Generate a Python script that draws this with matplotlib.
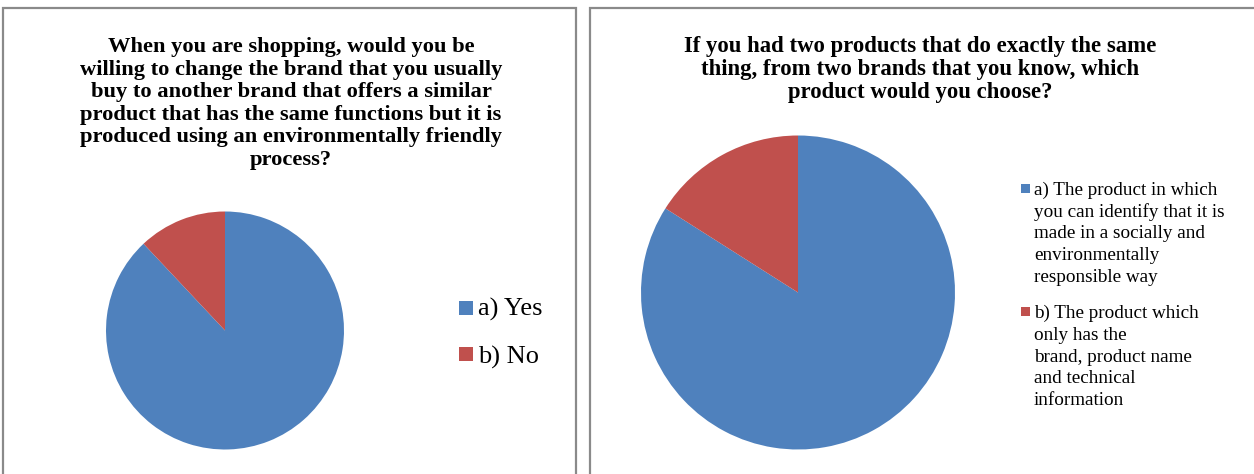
import matplotlib.pyplot as plt
from matplotlib.patches import Rectangle

# survey answers (percent of respondents)
q1_labels = ["a) Yes", "b) No"]
q1_values = [88, 12]

q2_labels = [
    "a) The product in which\nyou can identify that it is\nmade in a socially and\nenvironmentally\nresponsible way",
    "b) The product which\nonly has the\nbrand, product name\nand technical\ninformation",
]
q2_values = [84, 16]

q1_title = [
    "When you are shopping, would you be",
    "willing to change the brand that you usually",
    "buy to another brand that offers a similar",
    "product that has the same functions but it is",
    "produced using an environmentally friendly",
    "process?",
]
q2_title = [
    "If you had two products that do exactly the same",
    "thing, from two brands that you know, which",
    "product would you choose?",
]

colors = ["#4F81BD", "#C0504D"]
W, H = 1254, 474
FONT = "Liberation Serif"

fig = plt.figure(figsize=(W / 100, H / 100), dpi=100)
fig.patch.set_facecolor("white")


def fx(px):
    return px / W


def fy(py):
    return 1 - py / H


# chart frames
for x0, x1 in [(3, 576), (590, 1262)]:
    fig.patches.append(Rectangle((fx(x0), fy(490)), fx(x1 - x0), (490 - 8) / H,
                                 transform=fig.transFigure, facecolor="none",
                                 edgecolor="#8a8a8a", linewidth=1.6))


def draw_pie(cx, cy, r, values):
    ax = fig.add_axes([fx(cx - r), fy(cy + r), 2 * r / W, 2 * r / H])
    ax.pie(values, colors=colors, startangle=90, counterclock=False,
           radius=1, wedgeprops=dict(linewidth=0))
    ax.set_xlim(-1, 1)
    ax.set_ylim(-1, 1)
    ax.set_aspect("auto")
    ax.axis("off")


draw_pie(225, 330.5, 119, q1_values)
draw_pie(798, 292.5, 157, q2_values)


def draw_title(lines, cx, y0, step, size):
    for i, line in enumerate(lines):
        fig.text(fx(cx), fy(y0 + i * step), line, ha="center", va="baseline",
                 fontsize=size, fontweight="bold", family=FONT, color="black")


draw_title(q1_title, 291, 52, 22.6, 16.2)
draw_title(q2_title, 920, 52, 23.0, 16.4)

# left legend
for i, lab in enumerate(q1_labels):
    top = 301 + i * 46.3
    fig.patches.append(Rectangle((fx(459), fy(top + 13.5)), fx(13.5), 13.5 / H,
                                 transform=fig.transFigure, facecolor=colors[i],
                                 edgecolor="none"))
    fig.text(fx(478), fy(316 + i * 47.3), lab, ha="left", va="baseline",
             fontsize=19, family=FONT, color="black")

# right legend
for i, lab in enumerate(q2_labels):
    base = 195 + i * 123.3
    fig.patches.append(Rectangle((fx(1021), fy(base - 2.5)), fx(9), 9 / H,
                                 transform=fig.transFigure, facecolor=colors[i],
                                 edgecolor="none"))
    for j, line in enumerate(lab.split("\n")):
        fig.text(fx(1034), fy(base + j * 21.67), line, ha="left", va="baseline",
                 fontsize=13.8, family=FONT, color="black")

fig.savefig("out.png", dpi=100)
